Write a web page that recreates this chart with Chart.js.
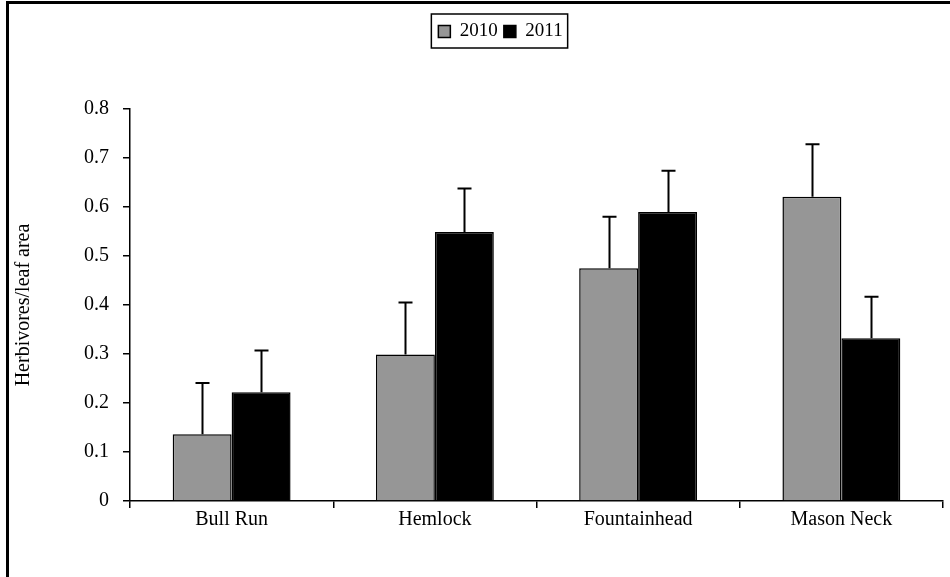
<!DOCTYPE html>
<html>
<head>
<meta charset="utf-8">
<script src="https://cdn.jsdelivr.net/npm/chart.js@4/dist/chart.umd.min.js"></script>
<style>
  html, body { margin: 0; padding: 0; background: #fff; }
</style>
</head>
<body>
<canvas id="chart" width="950" height="577"></canvas>
<script>
// Data
const sites = ['Bull Run', 'Hemlock', 'Fountainhead', 'Mason Neck'];
const values2010 = [0.136, 0.299, 0.475, 0.621];
const values2011 = [0.222, 0.549, 0.590, 0.332];
const err2010 = [0.105, 0.106, 0.105, 0.107];
const err2011 = [0.085, 0.089, 0.084, 0.085];
const yTicks = [0, 0.1, 0.2, 0.3, 0.4, 0.5, 0.6, 0.7, 0.8];

const FONT = 'Liberation Serif';

// Push the plot area down below the legend, and nudge the legend right
const legendMargin = {
  id: 'legendMargin',
  beforeInit(chart) {
    const origFit = chart.legend.fit;
    chart.legend.fit = function fit() {
      origFit.bind(chart.legend)();
      this.height += 58;
    };
  },
  afterLayout(chart) {
    chart.legend.left += 23;
    chart.legend.right += 23;
  }
};

// Box around the legend items
const legendBox = {
  id: 'legendBox',
  afterDraw(chart) {
    const boxes = chart.legend.legendHitBoxes;
    if (!boxes || !boxes.length) return;
    const left = Math.min(...boxes.map(b => b.left)) - 7;
    const right = Math.max(...boxes.map(b => b.left + b.width)) + 5;
    const top = boxes[0].top - 8;
    const bottom = boxes[0].top + boxes[0].height + 7;
    const ctx = chart.ctx;
    ctx.save();
    ctx.strokeStyle = '#000';
    ctx.lineWidth = 1.5;
    ctx.strokeRect(left, top, right - left, bottom - top);
    ctx.restore();
  }
};

// Outer frame (cropped on the right and bottom in the original)
const frame = {
  id: 'frame',
  afterDraw(chart) {
    const ctx = chart.ctx;
    ctx.save();
    ctx.strokeStyle = '#000';
    ctx.lineWidth = 3;
    ctx.strokeRect(7.5, 2.5, 1000, 1000);
    ctx.restore();
  }
};

// Upper error bars with caps
const errorBars = {
  id: 'errorBars',
  afterDatasetsDraw(chart) {
    const ctx = chart.ctx;
    const yScale = chart.scales.y;
    const errs = [err2010, err2011];
    ctx.save();
    ctx.strokeStyle = '#000';
    ctx.lineWidth = 2;
    chart.data.datasets.forEach((ds, di) => {
      chart.getDatasetMeta(di).data.forEach((bar, i) => {
        const x = Math.round(bar.x) + 0.5;
        const yTop = yScale.getPixelForValue(ds.data[i] + errs[di][i]);
        ctx.beginPath();
        ctx.moveTo(x, bar.y);
        ctx.lineTo(x, yTop);
        ctx.moveTo(x - 7, yTop);
        ctx.lineTo(x + 7, yTop);
        ctx.stroke();
      });
    });
    ctx.restore();
  }
};

new Chart(document.getElementById('chart'), {
  type: 'bar',
  data: {
    labels: sites,
    datasets: [{
      label: '2010',
      data: values2010,
      backgroundColor: '#969696',
      borderColor: '#000',
      borderWidth: 1.5
    }, {
      label: '2011',
      data: values2011,
      backgroundColor: '#000',
      borderColor: '#000',
      borderWidth: 1.5
    }]
  },
  options: {
    responsive: false,
    animation: false,
    devicePixelRatio: 1,
    layout: {
      padding: { top: 16, left: 12, right: 7, bottom: 0 }
    },
    datasets: {
      bar: { categoryPercentage: 0.58, barPercentage: 1 }
    },
    scales: {
      x: {
        grid: {
          offset: true,
          drawOnChartArea: false,
          color: '#000',
          lineWidth: 1.5,
          tickLength: 7
        },
        border: { color: '#000', width: 1.5 },
        ticks: {
          color: '#000',
          font: { family: FONT, size: 20 },
          padding: 0
        },
        afterFit(scale) { scale.height = 76; }
      },
      y: {
        min: 0,
        max: 0.8,
        afterBuildTicks(scale) {
          scale.ticks = yTicks.map(v => ({ value: v }));
        },
        grid: {
          drawOnChartArea: false,
          color: '#000',
          lineWidth: 1.5,
          tickLength: 7
        },
        border: { color: '#000', width: 1.5 },
        ticks: {
          color: '#000',
          font: { family: FONT, size: 20 },
          padding: 14,
          callback: v => (v === 0 ? '0' : v.toFixed(1))
        },
        title: {
          display: true,
          text: 'Herbivores/leaf area',
          color: '#000',
          font: { family: FONT, size: 20 },
          padding: { top: 0, bottom: 8 }
        },
        afterFit(scale) { scale.width = 118; }
      }
    },
    plugins: {
      legend: {
        position: 'top',
        labels: {
          color: '#000',
          font: { family: FONT, size: 19 },
          boxWidth: 12,
          boxHeight: 12,
          padding: 6
        }
      },
      tooltip: { enabled: false }
    }
  },
  plugins: [legendMargin, legendBox, frame, errorBars]
});
</script>
</body>
</html>
